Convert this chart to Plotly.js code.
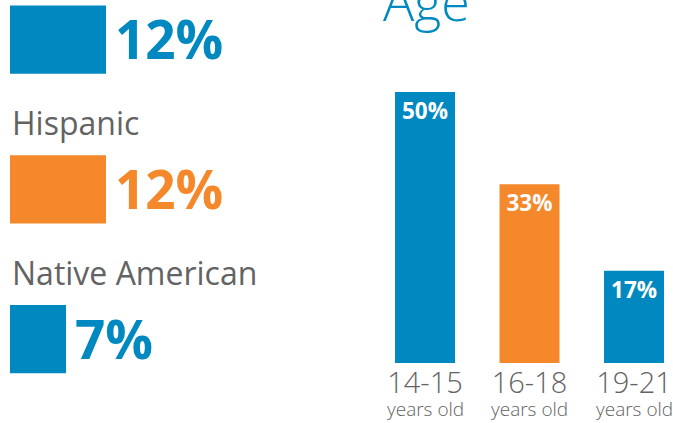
<!DOCTYPE html>
<html>
<head>
<meta charset="utf-8">
<script src="https://cdn.plot.ly/plotly-3.0.1.min.js"></script>
<style>html,body{margin:0;padding:0;background:#fff;}#chart{width:673px;height:423px;}</style>
</head>
<body>
<div id="chart"></div>
<script>
// Ethnicity (left panel) - first category label is cut off in the reference
const ethnicCategories = ["Black", "Hispanic", "Native American"];
const ethnicValues = [12, 12, 7];

// Age (right panel)
const ageCategories = ["14-15", "16-18", "19-21"];
const ageValues = [50, 33, 17];
const ageSubLabel = "years old";

const BLUE = "#0089C1";
const ORANGE = "#F5882A";
const GREY = "#636363";
const ethnicColors = [BLUE, ORANGE, BLUE];
const ageColors = [BLUE, ORANGE, BLUE];

const W = 673, H = 423;

const traces = [
  {
    type: "bar", orientation: "h",
    x: ethnicValues, y: ethnicCategories,
    xaxis: "x", yaxis: "y",
    width: 0.455,
    marker: {color: ethnicColors},
    hoverinfo: "skip"
  },
  {
    type: "bar",
    x: ageCategories, y: ageValues,
    xaxis: "x2", yaxis: "y2",
    width: 0.574,
    marker: {color: ageColors},
    text: ageValues.map(v => v + "%"),
    textposition: "inside",
    insidetextanchor: "end",
    constraintext: "none",
    textangle: 0,
    textfont: {family: "Open Sans", size: 22.5, color: "#ffffff", weight: 700},
    hoverinfo: "skip"
  }
];

const annotations = [];
ethnicCategories.forEach((c, i) => {
  const col = ethnicColors[i];
  annotations.push({
    xref: "x", yref: "y", x: ethnicValues[i], y: c,
    text: ethnicValues[i] + "%", showarrow: false,
    xanchor: "left", yanchor: "middle", xshift: 7, yshift: 1,
    font: {family: "Open Sans", size: 53, color: col, weight: 700}
  });
  if (i > 0) {
    annotations.push({
      xref: "x", yref: "y", x: 0, y: c,
      text: c, showarrow: false,
      xanchor: "left", yanchor: "middle", xshift: 0, yshift: 67,
      font: {family: "Open Sans", size: 32, color: GREY}
    });
  }
});
ageCategories.forEach((c) => {
  annotations.push({
    xref: "x2", yref: "y2", x: c, y: 0,
    text: ageSubLabel, showarrow: false,
    xanchor: "center", yanchor: "top", yshift: -31,
    font: {family: "Open Sans", size: 19, color: GREY, weight: 300}
  });
});

const layout = {
  width: W, height: H,
  margin: {l: 0, r: 0, t: 0, b: 0},
  paper_bgcolor: "#ffffff", plot_bgcolor: "#ffffff",
  showlegend: false,
  title: {
    text: "Age", x: 383 / W, xanchor: "left", xref: "paper",
    y: 1 - 21 / H, yanchor: "bottom", yref: "container",
    font: {family: "Open Sans", size: 52, color: BLUE, weight: 300}
  },
  xaxis: {domain: [10 / W, 250 / W], range: [0, 30], visible: false, fixedrange: true},
  yaxis: {domain: [0, 1], type: "category", range: [2.56, -0.265], visible: false, fixedrange: true},
  xaxis2: {
    domain: [372.75 / W, 1], range: [-0.5, 2.373], anchor: "y2", type: "category",
    showgrid: false, zeroline: false, showline: false, ticks: "",
    tickfont: {family: "Open Sans", size: 29, color: GREY, weight: 300},
    fixedrange: true
  },
  yaxis2: {domain: [60 / H, 1 - 37.8 / H], range: [0, 60], anchor: "x2", visible: false, fixedrange: true},
  annotations: annotations
};

Plotly.newPlot("chart", traces, layout, {displayModeBar: false, staticPlot: true});
</script>
</body>
</html>
